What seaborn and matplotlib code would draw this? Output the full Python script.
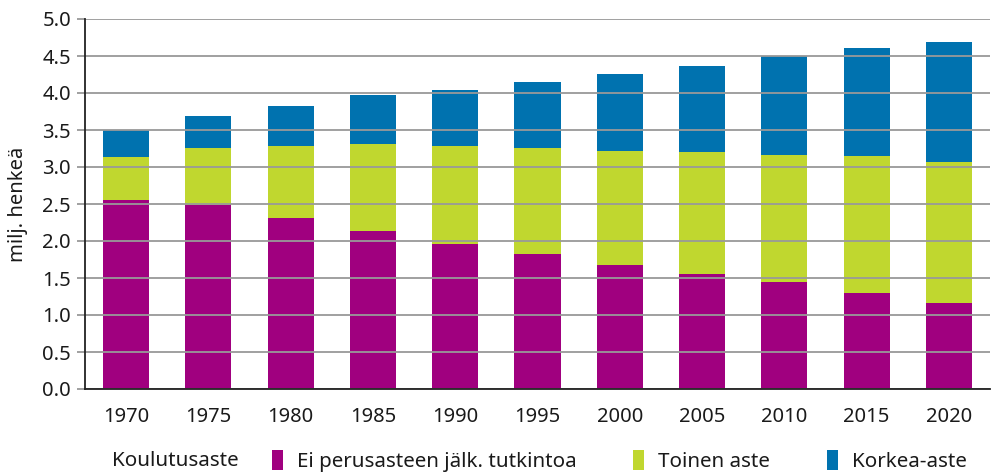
import matplotlib
matplotlib.use("Agg")
import matplotlib.pyplot as plt
import seaborn as sns
import numpy as np
from matplotlib.patches import Patch

years = ["1970", "1975", "1980", "1985", "1990", "1995", "2000", "2005", "2010", "2015", "2020"]
ei_perus = [2.55, 2.49, 2.31, 2.14, 1.96, 1.82, 1.68, 1.55, 1.45, 1.30, 1.16]
toinen = [0.59, 0.77, 0.97, 1.17, 1.32, 1.44, 1.54, 1.65, 1.71, 1.85, 1.91]
korkea = [0.36, 0.43, 0.54, 0.66, 0.76, 0.89, 1.04, 1.17, 1.34, 1.46, 1.62]
series_names = ["Ei perusasteen jälk. tutkintoa", "Toinen aste", "Korkea-aste"]
legend_title = "Koulutusaste"
y_label = "milj. henkeä"
colors = ["#A0007F", "#C0D72F", "#0072AF"]

sns.set_theme(style="white")
plt.rcParams['font.family'] = ['Noto Sans', 'DejaVu Sans']

fig = plt.figure(figsize=(10.03, 4.75), dpi=100)
ax = fig.add_axes([85/1003, 1-389/475, 905/1003, 370/475])

b1 = np.array(ei_perus)
b2 = b1 + np.array(toinen)
kw = dict(width=0.56, ax=ax, saturation=1, zorder=1, linewidth=0, edgecolor="none")
sns.barplot(x=years, y=ei_perus, color=colors[0], **kw)
sns.barplot(x=years, y=toinen, bottom=b1, color=colors[1], **kw)
sns.barplot(x=years, y=korkea, bottom=b2, color=colors[2], **kw)

ax.set_ylim(0, 5.0)
ax.set_xlim(-0.5, len(years) - 0.5)
ax.set_yticks(np.arange(0, 5.01, 0.5))
ax.set_yticklabels([f"{v:.1f}" for v in np.arange(0, 5.01, 0.5)])
ax.yaxis.grid(True, color="#999999", linewidth=1.3, zorder=3)
ax.set_axisbelow(False)
for s in ["top", "right"]:
    ax.spines[s].set_visible(False)
ax.spines["left"].set_color("#222222")
ax.spines["bottom"].set_color("#222222")
ax.spines["left"].set_linewidth(1.3)
ax.spines["bottom"].set_linewidth(1.3)
ax.spines["left"].set_zorder(4)
ax.spines["bottom"].set_zorder(4)
ax.tick_params(axis="y", left=True, length=6, width=1.3, color="#999999", labelsize=14.5, pad=4, labelcolor="#1a1a1a")
ax.tick_params(axis="x", bottom=False, labelsize=14.5, pad=7, labelcolor="#1a1a1a")
ax.set_ylabel(y_label, fontsize=14.5, color="#1a1a1a", labelpad=10)
ax.set_xlabel("")

fig.text(112/1003, 1-461/475, legend_title, fontsize=14.8, color="#1a1a1a", va="center", ha="left")
handles = [Patch(facecolor=c, edgecolor="none") for c in colors]
fig.legend(handles, series_names, loc="center left", bbox_to_anchor=(272/1003, 1-461/475),
           ncol=3, frameon=False, fontsize=14.8, handlelength=0.54, handleheight=1.15,
           handletextpad=0.68, columnspacing=2.75, borderaxespad=0, borderpad=0,
           labelcolor="#1a1a1a")

fig.savefig("out.png", dpi=100)
